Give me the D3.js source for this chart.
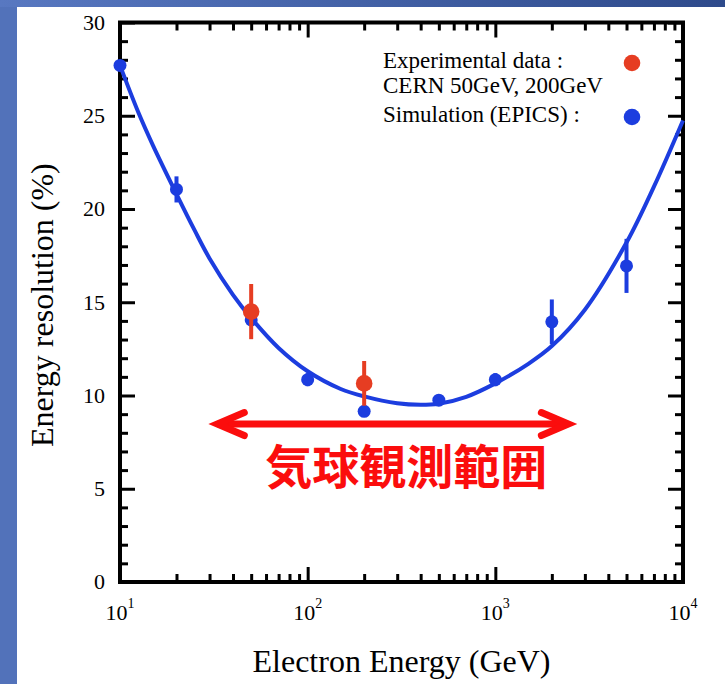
<!DOCTYPE html>
<html>
<head>
<meta charset="utf-8">
<script src="https://cdn.jsdelivr.net/npm/d3@7"></script>
<style>
  html, body { margin: 0; padding: 0; background: #fff; }
  svg { display: block; }
  .tick line { stroke: #000; stroke-width: 3; }
  .serif { font-family: "Liberation Serif", "Times New Roman", serif; fill: #000; }
</style>
</head>
<body>
<svg id="chart" width="725" height="684"></svg>
<script>
// ---- data ------------------------------------------------------------------
// simulation (EPICS), blue
const simEnergy = [10, 20, 50, 100, 200, 500, 1000, 2000, 5000];
const simRes    = [27.7, 21.05, 14.05, 10.85, 9.15, 9.75, 10.85, 13.95, 16.95];
const simErr    = [0, 0.7, 0.3, 0.35, 0.3, 0.2, 0.35, 1.2, 1.45];

// experimental data (CERN), red
const expEnergy = [50, 200];
const expRes    = [14.5, 10.65];
const expErr    = [1.48, 1.2];

// fitted curve, sampled along the drawn line
const fitEnergy = [10, 12.5, 15, 20, 25, 30, 40, 50, 70, 100, 150, 200, 300, 400, 500, 700, 1000, 1500, 2000, 3000, 5000, 7000, 10000];
const fitRes    = [27.7, 25.2, 23.4, 20.8, 18.85, 17.35, 15.4, 14.15, 12.55, 11.3, 10.35, 9.95, 9.58, 9.5, 9.56, 9.93, 10.65, 11.7, 12.65, 14.6, 18.2, 21.2, 24.75];

// axes
const xDecades = [10, 100, 1000, 10000];
const xDecadeExp = ["1", "2", "3", "4"];
const xMinorMult = [2, 3, 4, 5, 6, 7, 8, 9];
const yMajorTicks = [0, 5, 10, 15, 20, 25, 30];
const yMinorTicks = [1, 2, 3, 4, 6, 7, 8, 9, 11, 12, 13, 14, 16, 17, 18, 19, 21, 22, 23, 24, 26, 27, 28, 29];

const xTitle = "Electron Energy (GeV)";
const yTitle = "Energy resolution (%)";
const legendExp = ["Experimental data :", "CERN 50GeV, 200GeV"];
const legendSim = "Simulation (EPICS) :";

// annotation: balloon observation range
const rangeFrom = 33, rangeTo = 2450, rangeLevel = 8.47;
const rangeLabel = "気球観測範囲";
const rangeLabelAt = [335, 5.25];

// ---- drawing -----------------------------------------------------------------
const BLUE = "#1c3ddf";
const RED_DATA = "#e63d22";
const RED = "#fb0d0d";

const svg = d3.select("#chart");
const W = 725, H = 684;

// slide background: blue border strips on left/top
const defs = svg.append("defs");
const grad = defs.append("linearGradient").attr("id", "band").attr("x1", 0).attr("x2", 1).attr("y1", 0).attr("y2", 0);
grad.append("stop").attr("offset", 0).attr("stop-color", "#5878c1");
grad.append("stop").attr("offset", 1).attr("stop-color", "#2e4a8b");
svg.append("rect").attr("width", W).attr("height", H).attr("fill", "#5272ba");
svg.append("rect").attr("width", W).attr("height", 7).attr("fill", "url(#band)");
svg.append("rect").attr("x", 17).attr("y", 7).attr("width", W - 17).attr("height", H - 7).attr("fill", "#fff");

const L = 120, R = 683, T = 22.5, B = 582;
const x = d3.scaleLog().domain([10, 10000]).range([L, R]);
const y = d3.scaleLinear().domain([0, 30]).range([B, T]);

const xMinor = [];
xDecades.slice(0, -1).forEach((d) => xMinorMult.forEach((m) => xMinor.push(d * m)));

function ticks(axis, tx, ty) {
  const g = svg.append("g").attr("transform", `translate(${tx},${ty})`).call(axis);
  g.select(".domain").remove();
  g.selectAll("text").remove();
  return g;
}
// major / minor ticks on all four sides, pointing inward
ticks(d3.axisBottom(x).tickValues(xDecades).tickSize(-15), 0, B);
ticks(d3.axisBottom(x).tickValues(xMinor).tickSize(-8), 0, B);
ticks(d3.axisTop(x).tickValues(xDecades).tickSize(-15), 0, T);
ticks(d3.axisTop(x).tickValues(xMinor).tickSize(-8), 0, T);
ticks(d3.axisLeft(y).tickValues(yMajorTicks).tickSize(-15), L, 0);
ticks(d3.axisLeft(y).tickValues(yMinorTicks).tickSize(-8), L, 0);
ticks(d3.axisRight(y).tickValues(yMajorTicks).tickSize(-15), R, 0);
ticks(d3.axisRight(y).tickValues(yMinorTicks).tickSize(-8), R, 0);

svg.append("rect").attr("x", L).attr("y", T).attr("width", R - L).attr("height", B - T)
  .attr("fill", "none").attr("stroke", "#000").attr("stroke-width", 4);

// y tick labels
svg.append("g").selectAll("text").data(yMajorTicks).join("text")
  .attr("class", "serif").attr("x", L - 15).attr("y", (d) => y(d)).attr("dy", "0.33em")
  .attr("text-anchor", "end").attr("font-size", 22).text((d) => d);

// x tick labels 10^n
const xl = svg.append("g").selectAll("text").data(xDecades).join("text")
  .attr("class", "serif").attr("x", (d) => x(d)).attr("y", 620)
  .attr("text-anchor", "middle").attr("font-size", 22);
xl.append("tspan").text("10");
xl.append("tspan").attr("dy", -12).attr("font-size", 14).text((d, i) => xDecadeExp[i]);

// axis titles
svg.append("text").attr("class", "serif").attr("x", (L + R) / 2).attr("y", 672)
  .attr("text-anchor", "middle").attr("font-size", 32).text(xTitle);
svg.append("text").attr("class", "serif").attr("transform", "translate(53,447) rotate(-90)")
  .attr("text-anchor", "start").attr("font-size", 32).text(yTitle);

// simulation error bars
const sim = simEnergy.map((e, i) => ({ e, v: simRes[i], err: simErr[i] }));
const exp = expEnergy.map((e, i) => ({ e, v: expRes[i], err: expErr[i] }));

svg.append("g").selectAll("line").data(sim.filter((d) => d.err > 0)).join("line")
  .attr("x1", (d) => x(d.e)).attr("x2", (d) => x(d.e))
  .attr("y1", (d) => y(d.v - d.err)).attr("y2", (d) => y(d.v + d.err))
  .attr("stroke", BLUE).attr("stroke-width", 4);

// fitted curve
const line = d3.line().x((d) => x(d[0])).y((d) => y(d[1])).curve(d3.curveCatmullRom.alpha(0.5));
svg.append("path").datum(fitEnergy.map((e, i) => [e, fitRes[i]]))
  .attr("d", line).attr("fill", "none").attr("stroke", BLUE).attr("stroke-width", 4);

svg.append("g").selectAll("circle").data(sim).join("circle")
  .attr("cx", (d) => x(d.e)).attr("cy", (d) => y(d.v)).attr("r", 6.5).attr("fill", BLUE);

// experimental points
svg.append("g").selectAll("line").data(exp).join("line")
  .attr("x1", (d) => x(d.e)).attr("x2", (d) => x(d.e))
  .attr("y1", (d) => y(d.v - d.err)).attr("y2", (d) => y(d.v + d.err))
  .attr("stroke", RED_DATA).attr("stroke-width", 4);
svg.append("g").selectAll("circle").data(exp).join("circle")
  .attr("cx", (d) => x(d.e)).attr("cy", (d) => y(d.v)).attr("r", 8.3).attr("fill", RED_DATA);

// legend
const lg = svg.append("g");
lg.append("text").attr("class", "serif").attr("x", 383).attr("y", 68).attr("font-size", 23).text(legendExp[0]);
lg.append("text").attr("class", "serif").attr("x", 383).attr("y", 93).attr("font-size", 23).text(legendExp[1]);
lg.append("text").attr("class", "serif").attr("x", 383).attr("y", 122).attr("font-size", 23).text(legendSim);
lg.append("circle").attr("cx", 632).attr("cy", 63).attr("r", 8.3).attr("fill", RED_DATA);
lg.append("circle").attr("cx", 632).attr("cy", 117).attr("r", 8.3).attr("fill", BLUE);

// double-headed arrow + label
const ax0 = x(rangeFrom), ax1 = x(rangeTo), ay = y(rangeLevel);
const arrow = svg.append("g").attr("stroke", RED).attr("stroke-width", 7).attr("stroke-linecap", "round").attr("fill", "none");
arrow.append("line").attr("x1", ax0 + 2).attr("x2", ax1 - 2).attr("y1", ay).attr("y2", ay);
arrow.append("path").attr("d", `M${ax0 + 27},${ay - 11.5}L${ax0},${ay}L${ax0 + 27},${ay + 11.5}`).attr("stroke-linejoin", "miter");
arrow.append("path").attr("d", `M${ax1 - 27},${ay - 11.5}L${ax1},${ay}L${ax1 - 27},${ay + 11.5}`).attr("stroke-linejoin", "miter");

svg.append("text").attr("x", x(rangeLabelAt[0])).attr("y", y(rangeLabelAt[1]))
  .attr("text-anchor", "middle").attr("font-size", 47).attr("font-weight", "bold")
  .attr("font-family", "'Noto Sans CJK JP', sans-serif").attr("fill", RED).text(rangeLabel);
</script>
</body>
</html>
